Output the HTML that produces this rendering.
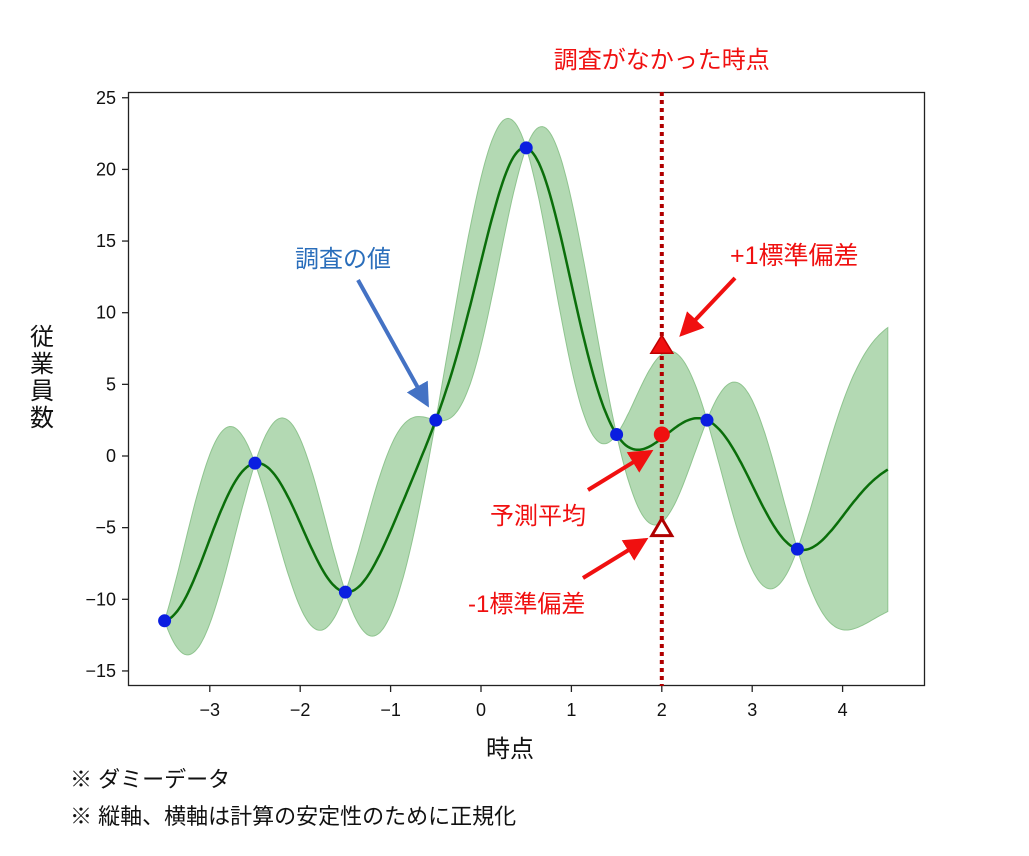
<!DOCTYPE html>
<html><head><meta charset="utf-8"><style>
body{margin:0;background:#fff;width:1029px;height:851px;overflow:hidden}
svg text{font-family:"Liberation Sans","Noto Sans CJK JP",sans-serif}
</style></head><body>
<svg id="chart" width="1029" height="851" xmlns="http://www.w3.org/2000/svg">
<g id="band"></g>
<g id="meanline"></g>
<g id="pts"></g>
<rect x="128.5" y="92.5" width="796" height="593" fill="none" stroke="#222" stroke-width="1.3"/>
<g id="xt"></g>
<g id="yt"></g>
<text x="510" y="757" font-size="24" text-anchor="middle" fill="#111">時点</text>
<g font-size="24" fill="#111" text-anchor="middle">
<text x="42" y="345">従</text><text x="42" y="372">業</text><text x="42" y="399">員</text><text x="42" y="426">数</text></g>
<text x="70" y="787" font-size="22" fill="#111">※ ダミーデータ</text>
<text x="70" y="824" font-size="22" fill="#111">※ 縦軸、横軸は計算の安定性のために正規化</text>
<g id="ann"></g>
</svg>
<script>
const obsX=[-3.5,-2.5,-1.5,-0.5,0.5,1.5,2.5,3.5];
const obsY=[-11.5,-0.5,-9.5,2.5,21.5,1.5,2.5,-6.5];
const xTicks=[-3,-2,-1,0,1,2,3,4];
const yTicks=[-15,-10,-5,0,5,10,15,20,25];
const queryX=2, predMean=1.5, predUpper=7.8, predLower=-5.0;
const X0=481,XS=90.4,Y0=456,YS=14.33;
const sx=x=>X0+x*XS, sy=y=>Y0-y*YS;
const NS="http://www.w3.org/2000/svg";
function mk(tag,attrs,parent){const e=document.createElementNS(NS,tag);for(const k in attrs)e.setAttribute(k,attrs[k]);parent.appendChild(e);return e;}
const L=0.5,SF=10;
const k=(a,b)=>SF*SF*Math.exp(-(a-b)*(a-b)/(2*L*L));
const K=obsX.map((a,i)=>obsX.map((b,j)=>k(a,b)+(i==j?1e-6:0)));
function solve(A,b){const m=A.map((r,i)=>[...r,b[i]]);const N=m.length;
for(let i=0;i<N;i++){let p=i;for(let r=i+1;r<N;r++)if(Math.abs(m[r][i])>Math.abs(m[p][i]))p=r;const tmp=m[i];m[i]=m[p];m[p]=tmp;
for(let r=0;r<N;r++)if(r!==i){const f=m[r][i]/m[i][i];for(let c=i;c<=N;c++)m[r][c]-=f*m[i][c];}}
return m.map((row,i)=>row[N]/row[i]);}
const alpha=solve(K,obsY);
const xmin=Math.min(...obsX),xmax=Math.max(...obsX)+1;
const mu=[],up=[],lo=[],xs=[];
for(let i=0;i<=400;i++){const x=xmin+(xmax-xmin)*i/400;const ks=obsX.map(a=>k(x,a));
const mm=ks.reduce((s,v,j)=>s+v*alpha[j],0);const v=solve(K,ks);
const va=SF*SF-ks.reduce((s,q,j)=>s+q*v[j],0);const sd=Math.sqrt(Math.max(va,0));
xs.push(x);mu.push(mm);up.push(mm+sd);lo.push(mm-sd);}
let d="M"+xs.map((x,i)=>sx(x).toFixed(1)+","+sy(up[i]).toFixed(1)).join("L");
for(let i=xs.length-1;i>=0;i--)d+="L"+sx(xs[i]).toFixed(1)+","+sy(lo[i]).toFixed(1);
const band=mk("path",{d:d+"Z",fill:"#b3d9b3",stroke:"#8fc48f","stroke-width":1},document.getElementById("band"));


const ml=mk("path",{d:"M"+xs.map((x,i)=>sx(x).toFixed(1)+","+sy(mu[i]).toFixed(1)).join("L"),fill:"none",stroke:"#0a6e0a","stroke-width":2.5},document.getElementById("meanline"));


obsX.forEach((x,i)=>{const c=mk("circle",{cx:sx(x),cy:sy(obsY[i]),r:6.5,fill:"#0a1ee0"},document.getElementById("pts"));

});
const xt=document.getElementById("xt");
xTicks.forEach(t=>{const l=mk("line",{x1:sx(t),x2:sx(t),y1:686,y2:692,stroke:"#222","stroke-width":1.3},xt);


const tx=mk("text",{x:sx(t),y:716,"font-size":18,"text-anchor":"middle",fill:"#111"},xt);tx.textContent=t<0?"−"+(-t):t;

});
const yt=document.getElementById("yt");
yTicks.forEach(t=>{const l=mk("line",{x1:122,x2:128,y1:sy(t),y2:sy(t),stroke:"#222","stroke-width":1.3},yt);


const tx=mk("text",{x:116,y:sy(t)+6,"font-size":18,"text-anchor":"end",fill:"#111"},yt);tx.textContent=t<0?"−"+(-t):t;

});
const ann=document.getElementById("ann");const qx=sx(queryX);
ann.innerHTML=`
<defs><marker id="ar" markerWidth="6" markerHeight="6" refX="5" refY="3" orient="auto"><path d="M0,0L6,3L0,6Z" fill="#f01010"/></marker>
<marker id="ab" markerWidth="6" markerHeight="6" refX="5" refY="3" orient="auto"><path d="M0,0L6,3L0,6Z" fill="#4472c4"/></marker></defs>
<line x1="${qx}" x2="${qx}" y1="92" y2="686" stroke="#b00000" stroke-width="4" stroke-dasharray="4,4"/>
<text x="${qx}" y="68" font-size="24" fill="#f01010" text-anchor="middle">調査がなかった時点</text>
<path d="M${qx-11},${sy(predUpper)+9}L${qx},${sy(predUpper)-9}L${qx+11},${sy(predUpper)+9}Z" fill="#f01010" stroke="#c00000" stroke-width="1.5"/>
<path d="M${qx-10},${sy(predLower)+8}L${qx},${sy(predLower)-9}L${qx+10},${sy(predLower)+8}Z" fill="#fff" stroke="#b00000" stroke-width="3"/>
<circle cx="${qx}" cy="${sy(predMean)}" r="8" fill="#f01010"/>
<text x="730" y="264" font-size="25" fill="#f01010">+1標準偏差</text>
<line x1="735" y1="278" x2="682" y2="334" stroke="#f01010" stroke-width="4" marker-end="url(#ar)"/>
<text x="490" y="524" font-size="24" fill="#f01010">予測平均</text>
<line x1="588" y1="490" x2="650" y2="452" stroke="#f01010" stroke-width="4" marker-end="url(#ar)"/>
<text x="468" y="612" font-size="24" fill="#f01010">-1標準偏差</text>
<line x1="583" y1="578" x2="645" y2="540" stroke="#f01010" stroke-width="4" marker-end="url(#ar)"/>
<text x="295" y="267" font-size="24" fill="#2a6ebb">調査の値</text>
<line x1="358" y1="280" x2="427" y2="404" stroke="#4472c4" stroke-width="4" marker-end="url(#ab)"/>`;
</script>
</body></html>
